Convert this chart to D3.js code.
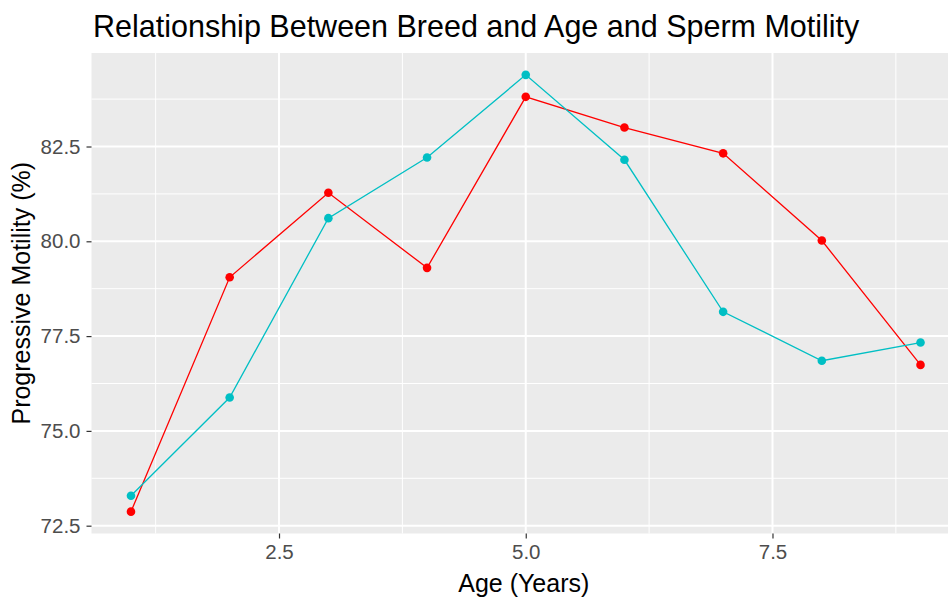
<!DOCTYPE html>
<html>
<head>
<meta charset="utf-8">
<script src="https://cdn.jsdelivr.net/npm/d3@7"></script>
<style>
  body { margin: 0; background: #fff; }
  svg { display: block; font-family: "Liberation Sans", Arial, sans-serif; }
</style>
</head>
<body>
<div id="graph"></div>
<script>
// data
var ages = [1, 2, 3, 4, 5, 6, 7, 8, 9];
var breedRed = [72.87, 79.05, 81.28, 79.30, 83.81, 83.00, 82.32, 80.02, 76.74];
var breedCyan = [73.29, 75.88, 80.61, 82.21, 84.39, 82.15, 78.14, 76.85, 77.33];
var xTicks = [2.5, 5.0, 7.5];
var yTicks = [72.5, 75.0, 77.5, 80.0, 82.5];

var width = 948, height = 599;
var panel = {left: 91.5, right: 960, top: 53, bottom: 533.5};

var svg = d3.select("#graph")
  .append("svg")
    .attr("width", width)
    .attr("height", height);

// ggplot style 5% expansion of the data range
function expand(ext) {
  var pad = (ext[1] - ext[0]) * 0.05;
  return [ext[0] - pad, ext[1] + pad];
}

var x = d3.scaleLinear()
  .domain(expand(d3.extent(ages)))
  .range([panel.left, panel.right]);

var y = d3.scaleLinear()
  .domain(expand(d3.extent(breedRed.concat(breedCyan))))
  .range([panel.bottom, panel.top]);

// minor breaks halfway between the major ones
function minors(ticks, dom) {
  var step = ticks[1] - ticks[0], out = [];
  for (var v = ticks[0] - step / 2; v <= dom[1]; v += step) {
    if (v >= dom[0]) out.push(v);
  }
  return out;
}

// panel background
svg.append("rect")
  .attr("x", panel.left)
  .attr("y", panel.top)
  .attr("width", panel.right - panel.left)
  .attr("height", panel.bottom - panel.top)
  .attr("fill", "#EBEBEB");

var grid = svg.append("g").attr("stroke", "#fff");

grid.selectAll(".xminor").data(minors(xTicks, x.domain())).enter()
  .append("line")
    .attr("x1", d => x(d)).attr("x2", d => x(d))
    .attr("y1", panel.top).attr("y2", panel.bottom)
    .attr("stroke-width", 1);
grid.selectAll(".yminor").data(minors(yTicks, y.domain())).enter()
  .append("line")
    .attr("y1", d => y(d)).attr("y2", d => y(d))
    .attr("x1", panel.left).attr("x2", panel.right)
    .attr("stroke-width", 1);
grid.selectAll(".xmajor").data(xTicks).enter()
  .append("line")
    .attr("x1", d => x(d)).attr("x2", d => x(d))
    .attr("y1", panel.top).attr("y2", panel.bottom)
    .attr("stroke-width", 2);
grid.selectAll(".ymajor").data(yTicks).enter()
  .append("line")
    .attr("y1", d => y(d)).attr("y2", d => y(d))
    .attr("x1", panel.left).attr("x2", panel.right)
    .attr("stroke-width", 2);

// axes
var xAxis = svg.append("g")
  .attr("transform", "translate(0," + panel.bottom + ")")
  .call(d3.axisBottom(x).tickValues(xTicks).tickFormat(d3.format(".1f")).tickSize(5).tickPadding(6));
var yAxis = svg.append("g")
  .attr("transform", "translate(" + panel.left + ",0)")
  .call(d3.axisLeft(y).tickValues(yTicks).tickFormat(d3.format(".1f")).tickSize(5).tickPadding(6));

[xAxis, yAxis].forEach(function (g) {
  g.select(".domain").remove();
  g.selectAll(".tick line").attr("stroke", "#333").attr("stroke-width", 1.2);
  g.selectAll(".tick text")
    .attr("fill", "#4D4D4D")
    .style("font-size", "20.5px")
    .style("font-family", "'Liberation Sans', Arial, sans-serif");
});

// lines and points
var series = [
  {values: breedRed, color: "#FF0000"},
  {values: breedCyan, color: "#00BFC4"}
];

var line = d3.line()
  .x(function (d, i) { return x(ages[i]); })
  .y(function (d) { return y(d); });

series.forEach(function (s) {
  svg.append("path")
    .datum(s.values)
    .attr("fill", "none")
    .attr("stroke", s.color)
    .attr("stroke-width", 1.3)
    .attr("d", line);
});

series.forEach(function (s) {
  svg.append("g").selectAll("circle")
    .data(s.values).enter()
    .append("circle")
      .attr("cx", function (d, i) { return x(ages[i]); })
      .attr("cy", function (d) { return y(d); })
      .attr("r", 4.3)
      .attr("fill", s.color);
});

// titles
svg.append("text")
  .attr("x", 93)
  .attr("y", 37)
  .attr("fill", "#000")
  .style("font-size", "30.5px")
  .text("Relationship Between Breed and Age and Sperm Motility");

svg.append("text")
  .attr("x", (panel.left + panel.right) / 2 - 2)
  .attr("y", 592)
  .attr("text-anchor", "middle")
  .attr("fill", "#000")
  .style("font-size", "25px")
  .text("Age (Years)");

svg.append("text")
  .attr("transform", "translate(30," + ((panel.top + panel.bottom) / 2) + ") rotate(-90)")
  .attr("text-anchor", "middle")
  .attr("fill", "#000")
  .style("font-size", "25px")
  .text("Progressive Motility (%)");
</script>
</body>
</html>
